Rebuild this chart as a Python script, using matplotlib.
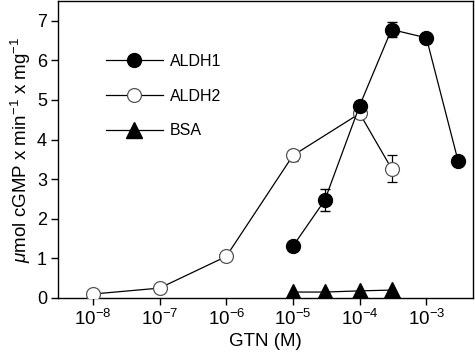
import matplotlib
matplotlib.use('Agg')
import matplotlib.pyplot as plt
from matplotlib.lines import Line2D

plt.rcParams['font.family'] = ['Liberation Sans', 'DejaVu Sans']
plt.rcParams['mathtext.fontset'] = 'custom'
plt.rcParams['mathtext.rm'] = 'Liberation Sans'
plt.rcParams['mathtext.it'] = 'Liberation Sans:italic'
plt.rcParams['mathtext.bf'] = 'Liberation Sans:bold'

# GTN concentration (M) and activity values
aldh1_x = [1e-5, 3e-5, 1e-4, 3e-4, 1e-3, 3e-3]
aldh1_y = [1.31, 2.47, 4.86, 6.78, 6.57, 3.45]
aldh1_err = [0.0, 0.28, 0.0, 0.18, 0.0, 0.0]

aldh2_x = [1e-8, 1e-7, 1e-6, 1e-5, 1e-4, 3e-4]
aldh2_y = [0.10, 0.25, 1.05, 3.60, 4.66, 3.27]
aldh2_err = [0.0, 0.0, 0.0, 0.15, 0.0, 0.34]

bsa_x = [1e-5, 3e-5, 1e-4, 3e-4]
bsa_y = [0.15, 0.15, 0.18, 0.20]

x_ticks = [1e-8, 1e-7, 1e-6, 1e-5, 1e-4, 1e-3]
x_ticklabels = ['$10^{-8}$', '$10^{-7}$', '$10^{-6}$', '$10^{-5}$', '$10^{-4}$', '$10^{-3}$']
y_ticks = [0, 1, 2, 3, 4, 5, 6, 7]

fig = plt.figure(figsize=(4.75, 3.54), dpi=100)
ax = fig.add_axes([58 / 475, 56 / 354, 415 / 475, 297 / 354])

ms = 10
ax.plot(bsa_x, bsa_y, color='black', lw=0.9, marker='^', ms=ms + 1,
        mfc='black', mec='black', zorder=2)
ax.errorbar(aldh2_x, aldh2_y, yerr=aldh2_err, color='black', lw=0.9, marker='o',
            ms=ms, mfc='white', mec='#555555', mew=0.9, capsize=3.5, elinewidth=0.9,
            zorder=3)
ax.errorbar(aldh1_x, aldh1_y, yerr=aldh1_err, color='black', lw=0.9, marker='o',
            ms=ms, mfc='black', mec='black', capsize=3.5, elinewidth=0.9,
            zorder=4)

ax.set_xscale('log')
ax.set_xlim(3e-9, 5e-3)
ax.set_ylim(0, 7.5)
ax.set_xticks(x_ticks)
ax.set_xticklabels(x_ticklabels)
ax.minorticks_off()
ax.set_yticks(y_ticks)
ax.tick_params(direction='out', length=5, width=1, pad=3)
ax.tick_params(axis='x', labelsize=13.5)
ax.tick_params(axis='y', labelsize=13)
for s in ax.spines.values():
    s.set_linewidth(1)

ax.set_xlabel('GTN (M)', fontsize=13.5, labelpad=3)
ax.set_ylabel(r'$\mathit{\mu}$mol cGMP x min$^{-1}$ x mg$^{-1}$', fontsize=13.5, labelpad=3)

# legend handles without error bar caps
leg_handles = [
    Line2D([], [], color='black', lw=0.9, marker='o', ms=ms, mfc='black', mec='black'),
    Line2D([], [], color='black', lw=0.9, marker='o', ms=ms, mfc='white', mec='#555555', mew=0.9),
    Line2D([], [], color='black', lw=0.9, marker='^', ms=ms + 1, mfc='black', mec='black'),
]
ax.legend(leg_handles, ['ALDH1', 'ALDH2', 'BSA'],
          loc='upper left', bbox_to_anchor=(0.1157, 0.823), frameon=False,
          borderaxespad=0, borderpad=0,
          fontsize=11.5, handlelength=3.55, labelspacing=1.25, handletextpad=0.45)

fig.savefig('out.png', dpi=100)
